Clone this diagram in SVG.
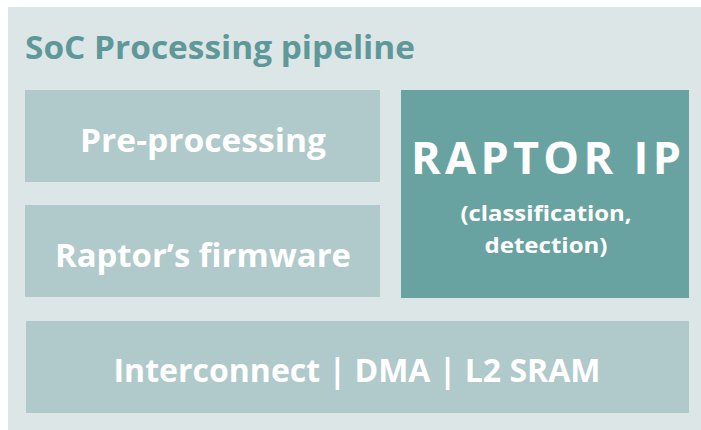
<svg xmlns="http://www.w3.org/2000/svg" width="701" height="430" viewBox="0 0 701 430">
<style>
text{font-family:"Open Sans","Noto Sans","Liberation Sans",sans-serif;font-weight:bold;text-anchor:middle;fill:#ffffff}
.light{fill:#b0c9ca}
.dark{fill:#68a3a2}
</style>
<rect x="0" y="0" width="701" height="430" fill="#ffffff"/>
<g id="soc">
<rect x="8" y="7" width="693" height="423" fill="#dce6e7"/>
<text x="25" y="59" style="text-anchor:start;fill:#5f9898;font-size:32px" textLength="390" lengthAdjust="spacingAndGlyphs">SoC Processing pipeline</text>
</g>
<g id="preprocessing">
<rect class="light" x="25" y="90" width="355" height="92"/>
<text x="203" y="152" style="font-size:33px" textLength="246" lengthAdjust="spacingAndGlyphs">Pre-processing</text>
</g>
<g id="firmware">
<rect class="light" x="25" y="205" width="355" height="92"/>
<text x="203" y="267" style="font-size:33px" textLength="296" lengthAdjust="spacingAndGlyphs">Raptor’s firmware</text>
</g>
<g id="raptorip">
<rect class="dark" x="401" y="90" width="288" height="208"/>
<text x="546" y="174" style="font-size:45px" textLength="270">RAPTOR IP</text>
<text x="546" y="221" style="font-size:22px" textLength="171" lengthAdjust="spacingAndGlyphs">(classification,</text>
<text x="546" y="253" style="font-size:22px" textLength="123" lengthAdjust="spacingAndGlyphs">detection)</text>
</g>
<g id="interconnect">
<rect class="light" x="26" y="321" width="663" height="92"/>
<text x="357" y="382" style="font-size:32px" textLength="487" lengthAdjust="spacingAndGlyphs">Interconnect | DMA | L2 SRAM</text>
</g>
<g id="connectors"/>
</svg>
